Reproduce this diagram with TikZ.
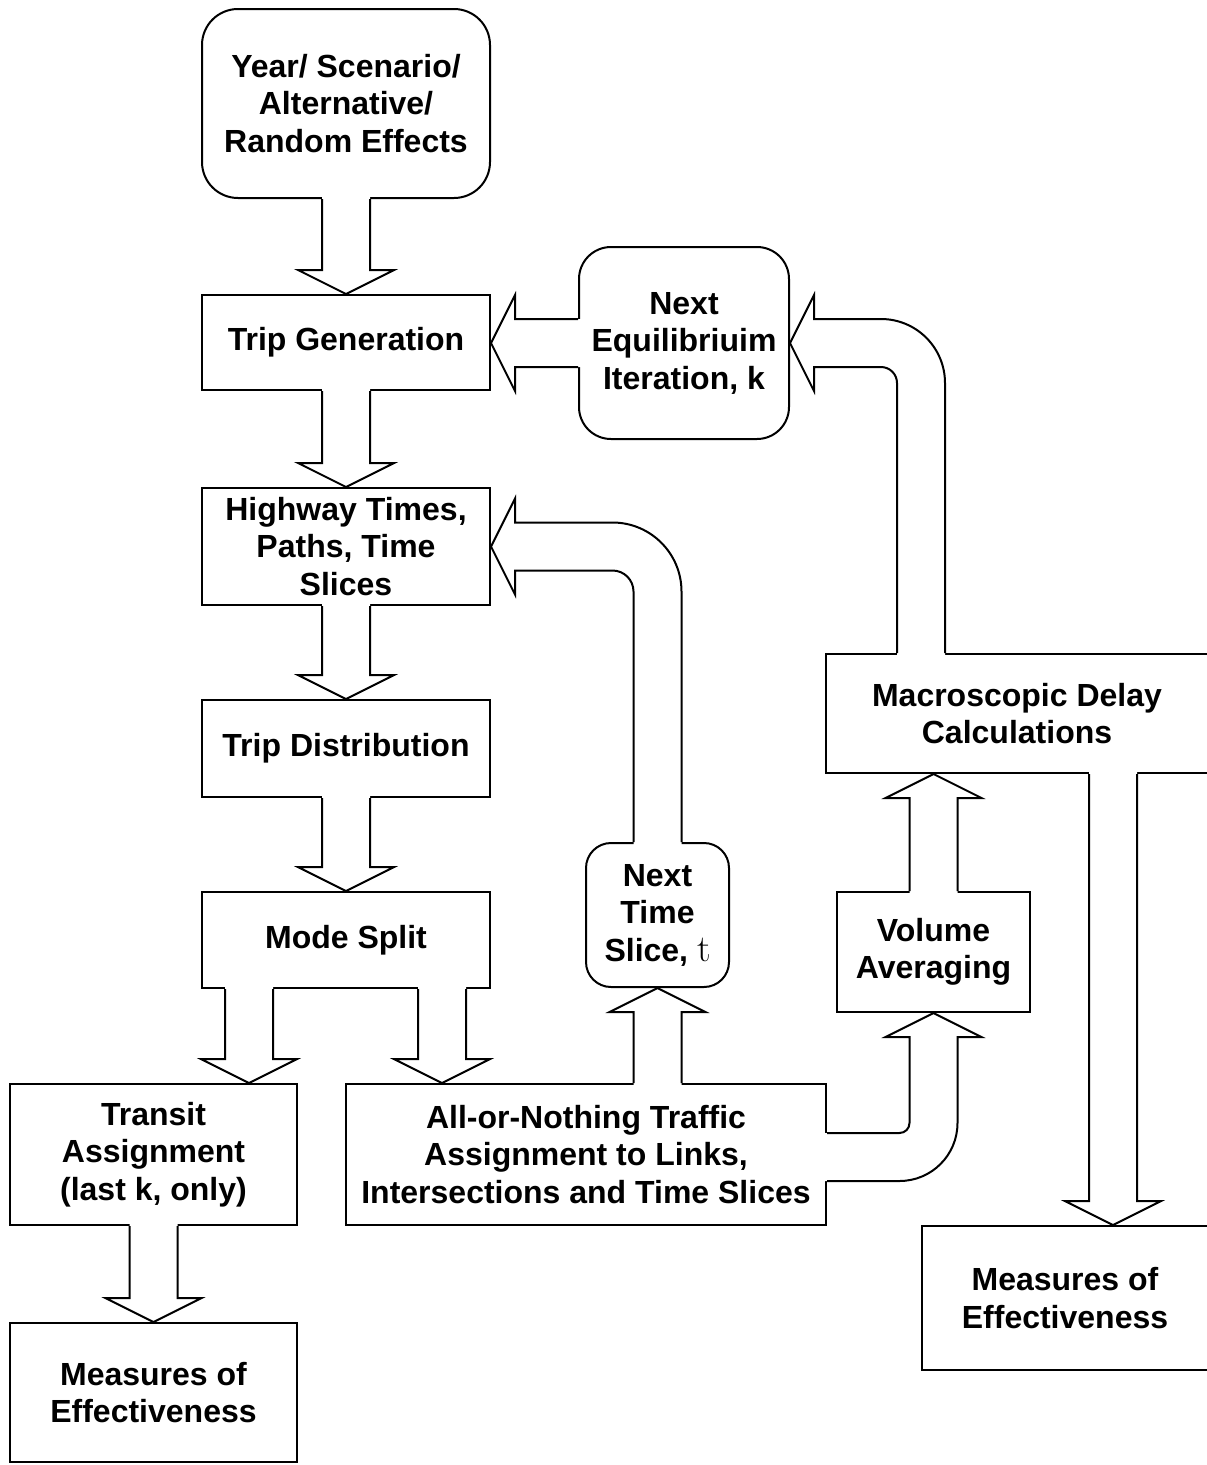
\documentclass[tikz,border=0pt]{standalone}
\usepackage{fontspec}
\newfontfamily\arialfont{Liberation Sans}
\usetikzlibrary{calc}
\tikzset{
  box/.style={draw, line width=2pt, fill=white, align=center,
    font=\arialfont\bfseries\fontsize{32}{37.5}\selectfont, inner sep=0pt},
  rbox/.style={box, rounded corners=#1},
  arrline/.style={line width=2pt, line join=miter}
}
% straight arrows: x (or y) taken from the source point, tip position from target
\newcommand\DArr[2]{%
 \fill[white] let \p1=#1, \p2=#2 in (\x1-24pt,\y1+3pt) -- (\x1-24pt,\y2+24pt) -- (\x1-48pt,\y2+24pt) -- (\x1,\y2) -- (\x1+48pt,\y2+24pt) -- (\x1+24pt,\y2+24pt) -- (\x1+24pt,\y1+3pt) -- cycle;
 \draw[arrline] let \p1=#1, \p2=#2 in (\x1-24pt,\y1) -- (\x1-24pt,\y2+24pt) -- (\x1-48pt,\y2+24pt) -- (\x1,\y2) -- (\x1+48pt,\y2+24pt) -- (\x1+24pt,\y2+24pt) -- (\x1+24pt,\y1);}
\newcommand\UArr[2]{%
 \fill[white] let \p1=#1, \p2=#2 in (\x1-24pt,\y1-3pt) -- (\x1-24pt,\y2-24pt) -- (\x1-48pt,\y2-24pt) -- (\x1,\y2) -- (\x1+48pt,\y2-24pt) -- (\x1+24pt,\y2-24pt) -- (\x1+24pt,\y1-3pt) -- cycle;
 \draw[arrline] let \p1=#1, \p2=#2 in (\x1-24pt,\y1) -- (\x1-24pt,\y2-24pt) -- (\x1-48pt,\y2-24pt) -- (\x1,\y2) -- (\x1+48pt,\y2-24pt) -- (\x1+24pt,\y2-24pt) -- (\x1+24pt,\y1);}
\newcommand\LArr[2]{%
 \fill[white] let \p1=#1, \p2=#2 in (\x1+3pt,\y1+24pt) -- (\x2+24pt,\y1+24pt) -- (\x2+24pt,\y1+48pt) -- (\x2,\y1) -- (\x2+24pt,\y1-48pt) -- (\x2+24pt,\y1-24pt) -- (\x1+3pt,\y1-24pt) -- cycle;
 \draw[arrline] let \p1=#1, \p2=#2 in (\x1,\y1+24pt) -- (\x2+24pt,\y1+24pt) -- (\x2+24pt,\y1+48pt) -- (\x2,\y1) -- (\x2+24pt,\y1-48pt) -- (\x2+24pt,\y1-24pt) -- (\x1,\y1-24pt);}
% up then left bend: #1 source, #2 tip, #3 mean radius, #4 outer radius, #5 inner radius
\newcommand\ULArr[5]{%
 \fill[white] let \p1=#1, \p2=#2 in (\x1+24pt,\y1-3pt) -- (\x1+24pt,\y2-#3pt) arc[start angle=0,end angle=90,radius=#4pt] -- (\x2+24pt,\y2+24pt) -- (\x2+24pt,\y2+48pt) -- (\x2,\y2) -- (\x2+24pt,\y2-48pt) -- (\x2+24pt,\y2-24pt) -- (\x1-#3pt,\y2-24pt) arc[start angle=90,end angle=0,radius=#5pt] -- (\x1-24pt,\y1-3pt) -- cycle;
 \draw[arrline] let \p1=#1, \p2=#2 in (\x1+24pt,\y1) -- (\x1+24pt,\y2-#3pt) arc[start angle=0,end angle=90,radius=#4pt] -- (\x2+24pt,\y2+24pt) -- (\x2+24pt,\y2+48pt) -- (\x2,\y2) -- (\x2+24pt,\y2-48pt) -- (\x2+24pt,\y2-24pt) -- (\x1-#3pt,\y2-24pt) arc[start angle=90,end angle=0,radius=#5pt] -- (\x1-24pt,\y1);}
\begin{document}
\begin{tikzpicture}[x=1pt,y=-1pt]
\useasboundingbox (0,0) rectangle (1207,1465);
\fill[white] (0,0) rectangle (1207,1465);
% nodes
\node[rbox=36pt, minimum width=288pt, minimum height=189pt] (ys) at (346,103.5) {Year/ Scenario/\\Alternative/\\Random Effects};
\node[box, minimum width=288pt, minimum height=95pt] (tg) at (346,342.5) {Trip Generation};
\node[box, minimum width=288pt, minimum height=117pt] (hw) at (346,546.5) {Highway Times,\\Paths, Time\\Slices};
\node[box, minimum width=288pt, minimum height=97pt] (td) at (346,748.5) {Trip Distribution};
\node[box, minimum width=288pt, minimum height=96pt] (ms) at (346,940) {Mode Split};
\node[box, minimum width=287pt, minimum height=141pt] (tr) at (153.5,1154.5) {Transit\\Assignment\\(last k, only)};
\node[box, minimum width=287pt, minimum height=139pt] (mL) at (153.5,1392.5) {Measures of\\Effectiveness};
\node[box, minimum width=480pt, minimum height=141pt] (aon) at (586,1154.5) {All-or-Nothing Traffic\\Assignment to Links,\\Intersections and Time Slices};
\node[rbox=25pt, minimum width=143pt, minimum height=144pt] (nts) at (657.5,915) {Next\\Time\\Slice, {\rmfamily\mdseries\fontsize{38}{37.5}\selectfont t}};
\node[box, minimum width=193pt, minimum height=120pt] (va) at (933.5,952) {Volume\\Averaging};
\node[box, minimum width=382pt, minimum height=119pt] (macro) at (1017,713.5) {Macroscopic Delay\\Calculations};
\node[box, minimum width=286pt, minimum height=144pt] (mR) at (1065,1298) {Measures of\\Effectiveness};
\node[rbox=32pt, minimum width=210pt, minimum height=192pt] (nq) at (684,343) {Next\\Equilibriuim\\Iteration, k};
% auxiliary points
\coordinate (msL) at ($(ms.south)+(-97,0)$);
\coordinate (msR) at ($(ms.south)+(96,0)$);
\coordinate (mq) at ($(macro.north)+(-96,0)$);
\coordinate (mdown) at ($(macro.south)+(96,0)$);
\coordinate (aonE) at ($(aon.east)+(0,2.5)$);
% connectors
\DArr{(ys.south)}{(tg.north)}
\DArr{(tg.south)}{(hw.north)}
\DArr{(hw.south)}{(td.north)}
\DArr{(td.south)}{(ms.north)}
\DArr{(msL)}{(tr.north)}
\DArr{(msR)}{(aon.north)}
\DArr{(tr.south)}{(mL.north)}
\DArr{(mdown)}{(mR.north)}
\UArr{(aon.north -| nts.south)}{(nts.south)}
\UArr{(va.north)}{(macro.south)}
\LArr{(nq.west)}{(tg.east)}
\ULArr{(nts.north)}{(hw.east)}{45}{69}{21}
\ULArr{(mq)}{(nq.east)}{40}{64}{16}
% right then up bend from All-or-Nothing to Volume Averaging
\fill[white] let \p1=(aonE), \p2=(va.south) in (\x1-3pt,\y1-24pt) -- (\x2-34pt,\y1-24pt) arc[start angle=-90,end angle=0,radius=58pt] -- (\x2+24pt,\y2-24pt) -- (\x2+48pt,\y2-24pt) -- (\x2,\y2) -- (\x2-48pt,\y2-24pt) -- (\x2-24pt,\y2-24pt) -- (\x2-24pt,\y1+34pt) arc[start angle=0,end angle=-90,radius=10pt] -- (\x1-3pt,\y1+24pt) -- cycle;
\draw[arrline] let \p1=(aonE), \p2=(va.south) in (\x1,\y1-24pt) -- (\x2-34pt,\y1-24pt) arc[start angle=-90,end angle=0,radius=58pt] -- (\x2+24pt,\y2-24pt) -- (\x2+48pt,\y2-24pt) -- (\x2,\y2) -- (\x2-48pt,\y2-24pt) -- (\x2-24pt,\y2-24pt) -- (\x2-24pt,\y1+34pt) arc[start angle=0,end angle=-90,radius=10pt] -- (\x1,\y1+24pt);
\end{tikzpicture}
\end{document}
